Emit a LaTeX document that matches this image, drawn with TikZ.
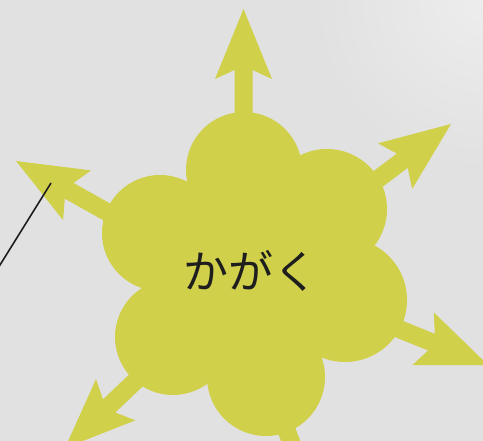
\documentclass[tikz,border=0pt]{standalone}
\usepackage{fontspec}
\newfontfamily\jpfont{Noto Sans CJK JP}
\definecolor{bgc}{HTML}{E1E1E1}
\definecolor{bgl}{HTML}{EDEDED}
\definecolor{blobc}{HTML}{D0D04A}
\definecolor{inkc}{HTML}{1E1E1E}
\tikzset{
  blobfill/.style={fill=blobc, draw=none},
  arrowfill/.style={fill=blobc, draw=none},
  leader/.style={draw=inkc, line width=1.6pt},
  kanalabel/.style={font=\jpfont\fontsize{45}{45}\selectfont, text=inkc, inner sep=0pt},
}
% fat arrow: tip at origin pointing along +x
\newcommand{\fatarrow}[3]{%
  \begin{scope}[shift={(#1)}, rotate=#2]
    \path[arrowfill] (0,0) -- (-70,28.5) -- (-61,9) -- (-#3,9) -- (-#3,-9)
      -- (-61,-9) -- (-70,-28.5) -- cycle;
  \end{scope}}
\begin{document}
\begin{tikzpicture}[x=1pt,y=-1pt]
  \useasboundingbox (0,0) rectangle (483,441);
  \clip (0,0) rectangle (483,441);
  \fill[bgc] (0,0) rectangle (483,441);
  \shade[inner color=bgl, outer color=bgc] (483,0) circle (170);
  % arrows
  \fatarrow{243.5,9}{90}{200}
  \fatarrow{451,124}{37}{200}
  \fatarrow{488,365}{-22}{200}
  \fatarrow{321,520}{-69}{220}
  \fatarrow{65,448}{-136.4}{200}
  \fatarrow{16,161}{150.7}{200}
  % blob
  \path[blobfill] (252,271) circle (100);
  \path[blobfill] (244,170) circle (58);
  \path[blobfill] (327,209) circle (60);
  \path[blobfill] (345,300) circle (62);
  \path[blobfill] (266,377) circle (59);
  \path[blobfill] (173,337) circle (58);
  \path[blobfill] (160,233) circle (58);
  \node[kanalabel] (label) at (251,271) {かがく};
  % leader line
  \coordinate (lineA) at (51,183);
  \coordinate (lineB) at (-5,273);
  \draw[leader] (lineA) -- (lineB);
\end{tikzpicture}
\end{document}
